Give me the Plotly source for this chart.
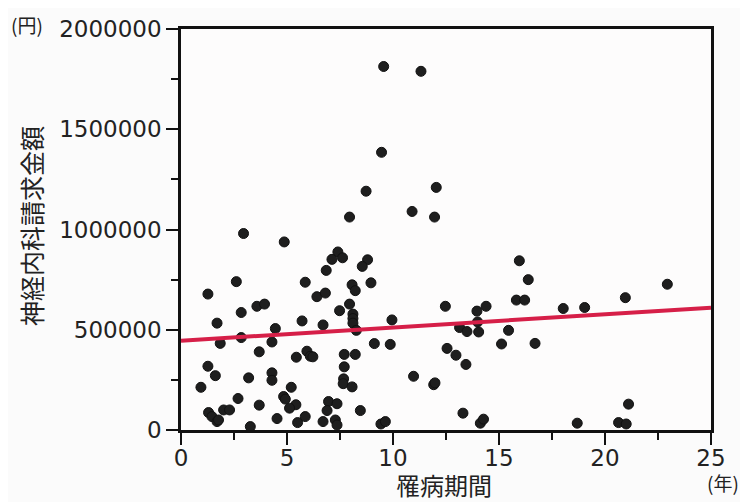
import plotly.graph_objects as go

# 罹病期間 (years)
years = [9.56, 11.32, 9.46, 8.73, 12.04, 7.95, 10.9, 11.96, 2.95, 4.87,
         7.4, 7.12, 7.62, 6.85, 8.8, 8.55, 1.27, 2.61, 5.86, 8.96,
         8.07, 8.22, 6.41, 6.81, 2.84, 3.58, 3.94, 1.7, 7.48, 7.95,
         8.11, 8.11, 8.11, 8.27, 5.71, 6.7, 4.45, 9.95, 12.47, 13.14,
         13.49, 1.85, 2.84, 4.29, 9.12, 9.87, 3.69, 5.94, 6.1, 6.22,
         5.44, 7.7, 8.22, 12.55, 12.97, 13.44, 1.27, 1.62, 3.19, 4.29,
         4.29, 7.7, 7.67, 7.65, 8.07, 10.97, 11.92, 11.98, 0.94, 2.69,
         4.84, 4.92, 5.2, 5.42, 5.12, 3.69, 6.96, 7.36, 6.89, 8.46,
         1.3, 1.46, 1.7, 2.01, 2.29, 1.77, 3.27, 4.53, 5.5, 5.86,
         6.7, 7.28, 7.36, 9.43, 9.64, 13.3,
         15.96, 16.38, 15.82, 16.21, 13.96, 14.39, 18.03, 19.04, 20.96, 22.94,
         14.04, 13.99, 15.45, 15.12, 16.7, 14.12, 14.27, 18.69, 20.64, 21.0, 21.11]

# 神経内科請求金額 (yen)
amounts = [1813000, 1789000, 1385000, 1191000, 1210000, 1062000, 1090000, 1062000, 980000, 938000,
           888000, 851000, 859000, 796000, 849000, 816000, 678000, 740000, 737000, 734000,
           724000, 695000, 665000, 683000, 586000, 617000, 628000, 533000, 595000, 628000,
           578000, 556000, 533000, 497000, 544000, 524000, 506000, 549000, 617000, 511000,
           491000, 432000, 461000, 439000, 431000, 427000, 390000, 393000, 368000, 365000,
           363000, 377000, 377000, 407000, 373000, 327000, 318000, 271000, 260000, 285000,
           248000, 315000, 255000, 231000, 215000, 268000, 226000, 235000, 213000, 157000,
           167000, 154000, 213000, 126000, 109000, 124000, 142000, 131000, 97000, 97000,
           87000, 67000, 42000, 100000, 100000, 50000, 17000, 57000, 37000, 67000,
           42000, 50000, 25000, 30000, 42000, 84000,
           844000, 750000, 648000, 648000, 593000, 617000, 606000, 611000, 660000, 727000,
           489000, 539000, 497000, 429000, 432000, 34000, 54000, 34000, 37000, 30000, 129000]

# regression line end points
fit_x = [0, 25]
fit_y = [445000, 610000]

x_ticks = [0, 5, 10, 15, 20, 25]
y_ticks = [0, 500000, 1000000, 1500000, 2000000]

CJK = "Noto Sans CJK JP"
NUM = "DejaVu Sans"
INK = "#222222"

fig = go.Figure()
fig.add_trace(go.Scatter(
    x=years, y=amounts, mode="markers",
    marker=dict(size=10, color="#1e1e1e", line=dict(color="#111111", width=1)),
    showlegend=False,
))
fig.add_trace(go.Scatter(
    x=fit_x, y=fit_y, mode="lines",
    line=dict(color="#d61f48", width=4),
    showlegend=False,
))

axis_common = dict(
    showgrid=False, zeroline=False, showline=True, linecolor="#111111",
    linewidth=2.5, mirror=True, ticks="outside", tickcolor="#111111",
    tickwidth=2, ticklen=12, automargin=False,
    tickfont=dict(family=NUM, size=23, color=INK),
)

fig.update_xaxes(
    range=[0, 25], tickvals=x_ticks, ticktext=[str(v) for v in x_ticks],
    minor=dict(ticks="outside", dtick=2.5, tick0=0, ticklen=7, tickwidth=2, tickcolor="#111111"),
    ticklabelstandoff=-6,
    **axis_common,
)
fig.update_yaxes(
    range=[0, 2000000], tickvals=y_ticks, ticktext=[str(v) for v in y_ticks],
    minor=dict(ticks="outside", dtick=250000, tick0=0, ticklen=7, tickwidth=2, tickcolor="#111111"),
    **axis_common,
)

# axis titles and units
fig.add_annotation(text="神経内科請求金額", xref="paper", yref="paper", x=-0.283, y=0.509,
                   textangle=-90, xanchor="center", yanchor="middle", showarrow=False,
                   font=dict(family=CJK, size=25, color=INK))
fig.add_annotation(text="罹病期間", xref="paper", yref="paper", x=0.496, y=-0.137,
                   xanchor="center", yanchor="middle", showarrow=False,
                   font=dict(family=CJK, size=24, color=INK))
fig.add_annotation(text="(円)", xref="paper", yref="paper", x=-0.2906, y=1.01,
                   xanchor="center", yanchor="middle", showarrow=False,
                   font=dict(family=CJK, size=19, color=INK))
fig.add_annotation(text="(年)", xref="paper", yref="paper", x=1.0226, y=-0.13,
                   xanchor="center", yanchor="middle", showarrow=False,
                   font=dict(family=CJK, size=19, color=INK))

# the page places the figure 8px in from the top-left corner
fig.update_layout(
    width=740, height=494,
    margin=dict(l=173, r=37, t=21, b=72),
    paper_bgcolor="#fbfbfb", plot_bgcolor="#fdfcfc",
    font=dict(family=CJK),
)

fig.write_html("out.html")
